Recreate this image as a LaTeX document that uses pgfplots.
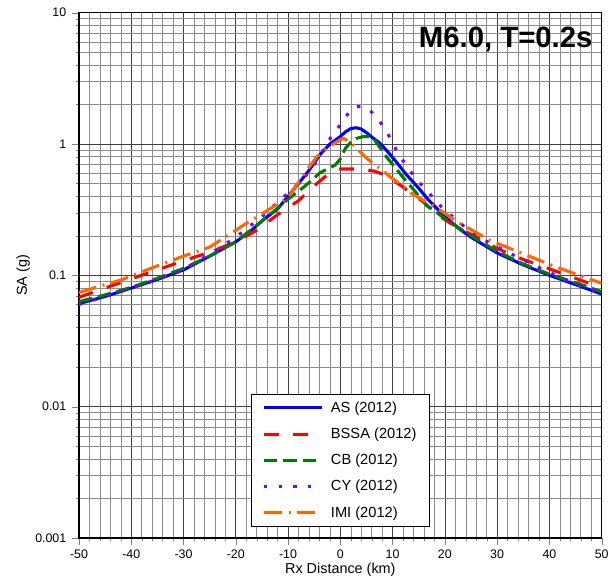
\documentclass[border=0pt]{standalone}
\usepackage{pgfplots}
\pgfplotsset{compat=1.18}
\usepackage{pgfplotstable}
\usepackage{fontspec}
\setmainfont{Liberation Sans}
\definecolor{asblue}{RGB}{0,0,255}
\definecolor{bssared}{RGB}{255,0,0}
\definecolor{cbgreen}{RGB}{0,125,0}
\definecolor{cyviolet}{RGB}{125,0,255}
\definecolor{imiorange}{RGB}{255,102,0}

\pgfplotstableread{
x y
-50 0.061
-45 0.069
-40 0.080
-35 0.093
-30 0.110
-25 0.140
-20 0.180
-17 0.22
-15 0.26
-12 0.32
-10 0.40
-8 0.50
-6 0.63
-4 0.82
-2 1.00
0 1.14
1 1.24
2 1.31
3 1.33
4 1.30
5 1.22
6 1.13
7.5 1.02
9 0.88
10.7 0.73
12.7 0.58
14 0.51
15 0.46
17 0.37
20 0.28
22.5 0.23
25 0.195
30 0.148
35 0.120
40 0.100
45 0.085
50 0.072
}\tAS

\pgfplotstableread{
x y
-50 0.068
-45 0.080
-40 0.094
-35 0.110
-30 0.129
-25 0.150
-20 0.180
-16 0.22
-12 0.29
-8 0.37
-5 0.48
-3 0.56
-1 0.63
0 0.645
4 0.645
6.6 0.62
8 0.59
9.5 0.55
12 0.47
14 0.41
16 0.36
18 0.30
21 0.25
25 0.205
27.3 0.185
30 0.160
35 0.132
40 0.112
45 0.095
50 0.080
}\tBSSA

\pgfplotstableread{
x y
-50 0.063
-45 0.071
-40 0.081
-35 0.095
-30 0.113
-25 0.140
-20 0.180
-16 0.24
-13 0.30
-10 0.38
-7 0.47
-5 0.55
-4 0.60
-2 0.66
-1 0.69
0 0.77
0.5 0.85
1 0.93
2 1.03
3 1.10
4.4 1.14
5.3 1.14
6.3 1.11
7.5 0.95
8.8 0.80
10 0.70
12.7 0.515
14 0.45
16.5 0.34
18 0.31
20 0.27
25 0.20
30 0.152
35 0.122
40 0.102
45 0.088
50 0.075
}\tCB

\pgfplotstableread{
x y
-50 0.060
-45 0.069
-40 0.080
-35 0.093
-30 0.110
-25 0.145
-20 0.195
-15 0.28
-12 0.36
-9 0.46
-7 0.55
-5.5 0.65
-4 0.80
-2.5 1.02
-1 1.25
0 1.40
1 1.60
2 1.82
3 1.92
4 1.93
5 1.89
6 1.75
7.2 1.55
8.8 1.26
10 1.02
11.4 0.80
13 0.66
14.6 0.53
16.5 0.45
18.4 0.36
20.6 0.30
24 0.23
27 0.19
32 0.15
37 0.12
44.5 0.087
50 0.073
}\tCY

\pgfplotstableread{
x y
-50 0.074
-45 0.085
-42 0.092
-35 0.118
-30 0.140
-25 0.164
-20 0.22
-18.6 0.24
-13.5 0.32
-10 0.39
-7.2 0.57
-4.5 0.80
-2 0.96
0 1.08
0.7 1.10
1.8 1.04
3.1 0.93
4.7 0.80
6.3 0.71
8.5 0.61
9.8 0.55
11.7 0.49
13.6 0.42
17.7 0.34
22.8 0.25
28.6 0.185
35.7 0.142
42 0.113
50 0.087
}\tIMI

\begin{document}
\begin{tikzpicture}
\useasboundingbox (-59.25pt,-32.25pt) rectangle (398.25pt,403.5pt);
\begin{axis}[
  at={(0pt,0pt)}, anchor=south west,
  scale only axis,
  width=392pt, height=394pt,
  xmin=-50, xmax=50,
  ymode=log, ymin=0.001, ymax=10,
  xtick={-50,-40,...,50},
  minor x tick num=4,
  ytick={0.001,0.01,0.1,1,10},
  yticklabels={0.001,0.01,0.1,1,10},
  /pgf/number format/assume math mode=true,
  tick label style={font=\fontsize{9.3}{11}\selectfont},
  label style={font=\fontsize{10.8}{13}\selectfont},
  xlabel={Rx Distance (km)},
  ylabel={SA (g)},
  xlabel style={at={(axis description cs:0.5,-0.061)}, anchor=center},
  ylabel style={at={(axis description cs:-0.107,0.5)}, anchor=center},
  tick align=outside,
  xtick pos=left, ytick pos=left,
  major tick length=5.5pt, minor tick length=2.5pt,
  yticklabel style={xshift=-0.5pt},
  grid=both,
  major grid style={black!75, line width=0.5pt},
  minor grid style={black!45, line width=0.4pt},
  axis line style={black, line width=0.8pt},
  legend style={at={(axis description cs:0.501,0.021)}, anchor=south,
    draw=black, line width=0.8pt, fill=white,
    font=\fontsize{11}{13}\selectfont,
    row sep=6.2pt, column sep=3.5pt, inner xsep=8pt, inner ysep=3.5pt,
    cells={anchor=west}},
  legend image code/.code={\draw[#1] (0pt,0pt) -- (43.5pt,0pt);},
  legend cell align=left,
]
\addplot[asblue, line width=2.3pt, solid] table {\tAS};
\addlegendentry{AS (2012)}
\addplot[bssared, line width=2.3pt, dash pattern=on 11pt off 11pt] table {\tBSSA};
\addlegendentry{BSSA (2012)}
\addplot[cbgreen, line width=2.3pt, dash pattern=on 10pt off 4.5pt] table {\tCB};
\addlegendentry{CB (2012)}
\addplot[cyviolet, line width=2.3pt, dash pattern=on 2.5pt off 8.5pt] table {\tCY};
\addlegendentry{CY (2012)}
\addplot[imiorange, line width=2.3pt, dash pattern=on 13.5pt off 5pt on 1.5pt off 5pt] table {\tIMI};
\addlegendentry{IMI (2012)}
\node[anchor=east, inner sep=0pt, font=\fontsize{22}{26}\selectfont\bfseries]
  at (axis description cs:0.983,0.949) {M6.0, T=0.2s};
\end{axis}
\end{tikzpicture}
\end{document}
